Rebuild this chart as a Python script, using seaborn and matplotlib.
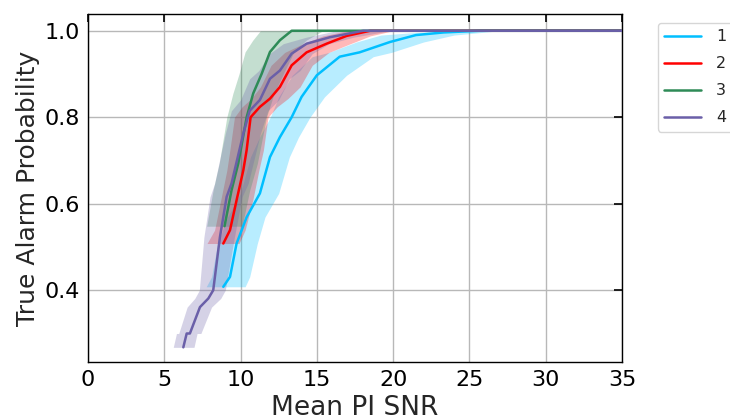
import numpy as np
import pandas as pd
import matplotlib
matplotlib.use("Agg")
import matplotlib.pyplot as plt
import seaborn as sns

# ---- data ----
labels = ["1", "2", "3", "4"]
colors = ["#00bfff", "#ff0000", "#2e8b57", "#6a5fa8"]

y1 = [0.408, 0.431, 0.508, 0.569, 0.624, 0.708, 0.754, 0.800, 0.847, 0.897, 0.940, 0.950, 0.974, 0.990, 0.996, 1.0, 1.0]
x1 = [8.87, 9.31, 9.74, 10.40, 11.27, 11.93, 12.58, 13.35, 14.00, 15.00, 16.50, 17.80, 19.80, 21.50, 23.30, 25.70, 35.0]
lo1 = [7.75, 8.10, 8.50, 9.15, 10.00, 10.65, 11.25, 11.95, 12.50, 13.40, 14.70, 15.80, 17.60, 19.20, 21.50, 24.50, 35.0]
hi1 = [10.30, 10.60, 11.10, 11.60, 12.50, 13.20, 13.80, 14.55, 15.50, 16.95, 18.70, 19.90, 22.00, 24.00, 25.80, 27.00, 35.0]

y2 = [0.508, 0.539, 0.608, 0.677, 0.724, 0.800, 0.824, 0.843, 0.870, 0.920, 0.950, 0.970, 0.988, 1.0, 1.0]
x2 = [8.87, 9.31, 9.74, 10.18, 10.40, 10.66, 11.27, 11.93, 12.58, 13.35, 14.33, 15.64, 16.95, 18.50, 35.0]
lo2 = [7.80, 8.30, 8.70, 9.10, 9.30, 9.60, 10.10, 10.70, 11.30, 12.00, 12.90, 14.10, 15.40, 17.00, 35.0]
hi2 = [9.90, 10.30, 10.80, 11.20, 11.50, 11.80, 12.40, 13.10, 13.90, 14.70, 15.80, 17.20, 18.50, 20.00, 35.0]

y3 = [0.548, 0.631, 0.693, 0.800, 0.855, 0.900, 0.951, 0.978, 1.0, 1.0]
x3 = [8.95, 9.41, 9.85, 10.40, 10.83, 11.38, 11.93, 12.58, 13.35, 35.0]
lo3 = [7.78, 8.20, 8.60, 9.10, 9.50, 9.90, 10.30, 10.80, 11.30, 35.0]
hi3 = [10.10, 10.60, 11.10, 11.70, 12.20, 12.80, 13.50, 14.30, 15.40, 35.0]

y4 = [0.268, 0.300, 0.300, 0.361, 0.381, 0.400, 0.523, 0.616, 0.647, 0.762, 0.815, 0.840, 0.889, 0.908, 0.947, 0.970, 0.985, 1.0, 1.0]
x4 = [6.25, 6.47, 6.68, 7.34, 7.89, 8.21, 8.65, 9.09, 9.41, 10.18, 10.60, 11.27, 11.93, 12.58, 13.35, 14.33, 15.86, 18.04, 35.0]
lo4 = [5.59, 5.80, 5.95, 6.50, 7.00, 7.30, 7.60, 8.00, 8.30, 9.00, 9.40, 10.00, 10.60, 11.20, 11.90, 12.80, 14.30, 16.30, 35.0]
hi4 = [6.95, 7.15, 7.40, 8.10, 8.70, 9.00, 9.60, 10.10, 10.50, 11.30, 11.80, 12.50, 13.20, 13.90, 14.70, 15.80, 17.40, 19.80, 35.0]

xs = [x1, x2, x3, x4]
ys = [y1, y2, y3, y4]
los = [lo1, lo2, lo3, lo4]
his = [hi1, hi2, hi3, hi4]

xticks = [0, 5, 10, 15, 20, 25, 30, 35]
yticks = [0.4, 0.6, 0.8, 1.0]

df = pd.concat(
    [pd.DataFrame({"snr": x, "prob": y, "series": lab, "order": range(len(x))})
     for x, y, lab in zip(xs, ys, labels)],
    ignore_index=True,
)

sns.set_style("white")
plt.rcParams["font.family"] = ["DejaVu Sans"]

fig = plt.figure(figsize=(7.3, 4.2), dpi=100)
ax = fig.add_axes([0.1205, 0.138, 0.7315, 0.829])

for x, lo, hi, y, c in zip(xs, los, his, ys, colors):
    ax.fill_betweenx(y, lo, hi, color=c, alpha=0.28, linewidth=0, zorder=2)

sns.lineplot(data=df, x="snr", y="prob", hue="series", palette=colors,
             estimator=None, sort=False, units="series", errorbar=None,
             linewidth=1.8, ax=ax, zorder=3, legend=False)

ax.set_xlim(0, 35)
ax.set_ylim(0.234, 1.039)
ax.set_xticks(xticks)
ax.set_yticks(yticks)
ax.set_yticklabels([f"{v:.1f}" for v in yticks])
ax.grid(True, color="#b8b8b8", linewidth=1.0, zorder=0)
ax.set_axisbelow(True)
ax.tick_params(direction="in", length=6, width=1.2, top=True, right=True,
               labelsize=16, colors="black", pad=6)
for s in ax.spines.values():
    s.set_color("black")
    s.set_linewidth(1.0)
ax.set_xlabel("Mean PI SNR", fontsize=19, labelpad=3)
ax.set_ylabel("True Alarm Probability", fontsize=18)
ax.yaxis.set_label_coords(-0.09, 0.5)

handles = [plt.Line2D([], [], color=c, lw=1.8) for c in colors]
ax.legend(handles, labels, loc="upper left", bbox_to_anchor=(1.0674, 0.974),
          borderaxespad=0, fontsize=11.5, handlelength=2.3, handletextpad=0.95,
          labelspacing=0.75, frameon=True, edgecolor="#cccccc", fancybox=True)

fig.savefig("out.png", dpi=100)
